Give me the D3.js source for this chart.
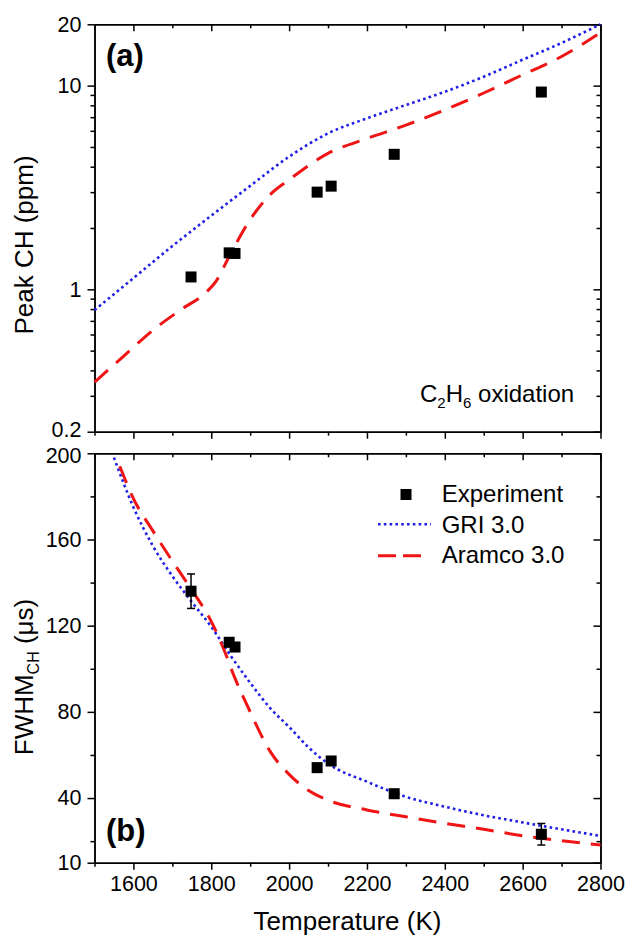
<!DOCTYPE html>
<html>
<head>
  <meta charset="utf-8">
  <title>Peak CH and FWHM of CH vs temperature</title>
  <script src="https://d3js.org/d3.v7.min.js"></script>
  <style>
    body { margin: 0; background: #fff; }
    svg text { font-family: "Liberation Sans", Arial, sans-serif; fill: #000; }
  </style>
</head>
<body>
  <script>
    // Experiment (square markers)
    let tempExp = [1748, 1846, 1861, 2072, 2108, 2270, 2648];
    let peakExp = [1.15, 1.51, 1.50, 3.0, 3.21, 4.6, 9.3];
    let fwhmExp = [136, 112.3, 110.1, 54.1, 57.2, 42.0, 23.2];
    let fwhmErr = [8, 2, 2, 2, 2, 2, 5];

    // GRI 3.0, panel (a)
    let griTempA = [1500, 1600, 1700, 1800, 1900, 2000, 2100, 2200, 2300, 2400, 2500, 2600, 2700, 2800];
    let griPeak = [0.79, 1.135, 1.63, 2.3, 3.22, 4.48, 5.83, 6.91, 8.03, 9.33, 11.06, 13.4, 16.2, 20];
    // Aramco 3.0, panel (a)
    let aramTempA = [1500, 1575, 1650, 1720, 1790, 1810, 1850, 1900, 1950, 2000, 2100, 2200, 2300, 2400, 2500, 2600, 2700, 2800];
    let aramPeak = [0.35, 0.47, 0.63, 0.79, 0.98, 1.08, 1.5, 2.2, 2.9, 3.45, 4.65, 5.5, 6.4, 7.6, 9.2, 11.3, 13.9, 18.2];

    // GRI 3.0, panel (b)
    let griTempB = [1550, 1600, 1650, 1700, 1750, 1800, 1850, 1900, 1950, 2000, 2050, 2100, 2200, 2300, 2400, 2500, 2600, 2700, 2800];
    let griFwhm = [198, 175, 157, 143, 131, 119.5, 106, 93.5, 82, 73, 63.5, 56, 47.6, 40.6, 36, 32, 28.7, 25.5, 22.4];
    // Aramco 3.0, panel (b)
    let aramTempB = [1565, 1600, 1650, 1700, 1750, 1800, 1830, 1860, 1900, 1950, 2000, 2050, 2100, 2200, 2300, 2400, 2500, 2600, 2700, 2800];
    let aramFwhm = [194, 179, 164, 150, 136.5, 122, 110, 96, 80, 62, 51, 43.5, 39, 34.5, 31.3, 28.3, 25.5, 22.5, 20.2, 18.2];

    // Tick values
    let xMajor = [1600, 1800, 2000, 2200, 2400, 2600, 2800];
    let xMinor = [1500, 1700, 1900, 2100, 2300, 2500, 2700];
    let yTopMajor = [0.2, 1, 10, 20];
    let yTopMinor = [0.3, 0.4, 0.5, 0.6, 0.7, 0.8, 0.9, 2, 3, 4, 5, 6, 7, 8, 9];
    let yBotMajor = [10, 40, 80, 120, 160, 200];
    let yBotMinor = [20, 60, 100, 140, 180];

    let legendNames = ["Experiment", "GRI 3.0", "Aramco 3.0"];

    let blue = "#1f1fe6", red = "#f01414";

    let svg = d3.select("body").append("svg")
      .attr("width", 629)
      .attr("height", 940);

    let x = d3.scaleLinear().domain([1500, 2800]).range([94.5, 600.5]);
    let yTop = d3.scaleLog().domain([0.2, 20]).range([431.7, 24.3]);
    let yBot = d3.scaleLinear().domain([10, 200]).range([862.7, 453.3]);

    function styleAxis(g) {
      g.selectAll("path, line").attr("stroke", "#000").attr("stroke-width", 1.5);
      g.selectAll("text").attr("font-size", 21.5).attr("fill", "#000");
    }

    // Frame with ticks on four sides; left/bottom ticks outward, top/right inward
    function frame(y, major, minor, fmt, labelX) {
      let y0 = y.range()[0], y1 = y.range()[1];
      let x0 = x.range()[0], x1 = x.range()[1];

      svg.append("g").attr("transform", "translate(0," + y0 + ")")
        .call(d3.axisBottom(x).tickValues(xMajor).tickSize(7).tickSizeOuter(0).tickPadding(6)
          .tickFormat(labelX ? d3.format("d") : ""))
        .call(styleAxis);
      svg.append("g").attr("transform", "translate(0," + y0 + ")")
        .call(d3.axisBottom(x).tickValues(xMinor).tickSize(4).tickSizeOuter(0).tickFormat(""))
        .call(styleAxis);
      svg.append("g").attr("transform", "translate(0," + y1 + ")")
        .call(d3.axisTop(x).tickValues(xMajor).tickSizeInner(-7).tickSizeOuter(0).tickFormat(""))
        .call(styleAxis);
      svg.append("g").attr("transform", "translate(0," + y1 + ")")
        .call(d3.axisTop(x).tickValues(xMinor).tickSizeInner(-4).tickSizeOuter(0).tickFormat(""))
        .call(styleAxis);

      let left = svg.append("g").attr("transform", "translate(" + x0 + ",0)")
        .call(d3.axisLeft(y).tickValues(major).tickSize(7).tickSizeOuter(0).tickPadding(6).tickFormat(fmt))
        .call(styleAxis);
      svg.append("g").attr("transform", "translate(" + x0 + ",0)")
        .call(d3.axisLeft(y).tickValues(minor).tickSize(4).tickSizeOuter(0).tickFormat(""))
        .call(styleAxis);
      svg.append("g").attr("transform", "translate(" + x1 + ",0)")
        .call(d3.axisRight(y).tickValues(major).tickSizeInner(-7).tickSizeOuter(0).tickFormat(""))
        .call(styleAxis);
      svg.append("g").attr("transform", "translate(" + x1 + ",0)")
        .call(d3.axisRight(y).tickValues(minor).tickSizeInner(-4).tickSizeOuter(0).tickFormat(""))
        .call(styleAxis);
      return left;
    }

    function curve(temps, vals, y, color, dash, w) {
      let line = d3.line()
        .x(function(d) { return x(d[0]); })
        .y(function(d) { return y(d[1]); })
        .curve(d3.curveMonotoneX);
      svg.append("path")
        .datum(d3.zip(temps, vals))
        .attr("d", line)
        .attr("fill", "none")
        .attr("stroke", color)
        .attr("stroke-width", w)
        .attr("stroke-dasharray", dash);
    }

    function squares(vals, y) {
      svg.append("g").selectAll("rect")
        .data(d3.zip(tempExp, vals))
        .enter().append("rect")
        .attr("x", function(d) { return x(d[0]) - 5.5; })
        .attr("y", function(d) { return y(d[1]) - 5.5; })
        .attr("width", 11)
        .attr("height", 11)
        .attr("fill", "#000");
    }

    // ----- panel (a) -----
    let leftA = frame(yTop, yTopMajor, yTopMinor, function(d) { return d; }, false);
    // keep the corner labels "0.2" and "200" from touching
    leftA.selectAll("text").filter(function(d) { return d === 0.2; }).attr("dy", "0.2em");
    curve(griTempA, griPeak, yTop, blue, "2.6,3.2", 2.6);
    curve(aramTempA, aramPeak, yTop, red, "18,11", 3);
    squares(peakExp, yTop);

    // ----- panel (b) -----
    let leftB = frame(yBot, yBotMajor, yBotMinor, d3.format("d"), true);
    leftB.selectAll("text").filter(function(d) { return d === 200; }).attr("dy", "0.45em");
    curve(griTempB, griFwhm, yBot, blue, "2.6,3.2", 2.6);
    curve(aramTempB, aramFwhm, yBot, red, "18,11", 3);

    // error bars
    let errData = d3.zip(tempExp, fwhmExp, fwhmErr);
    let eb = svg.append("g").attr("stroke", "#000").attr("stroke-width", 1.5);
    eb.selectAll("line.v").data(errData).enter().append("line")
      .attr("x1", function(d) { return x(d[0]); })
      .attr("x2", function(d) { return x(d[0]); })
      .attr("y1", function(d) { return yBot(d[1] + d[2]); })
      .attr("y2", function(d) { return yBot(d[1] - d[2]); });
    eb.selectAll("line.t").data(errData).enter().append("line")
      .attr("x1", function(d) { return x(d[0]) - 4; })
      .attr("x2", function(d) { return x(d[0]) + 4; })
      .attr("y1", function(d) { return yBot(d[1] + d[2]); })
      .attr("y2", function(d) { return yBot(d[1] + d[2]); });
    eb.selectAll("line.b").data(errData).enter().append("line")
      .attr("x1", function(d) { return x(d[0]) - 4; })
      .attr("x2", function(d) { return x(d[0]) + 4; })
      .attr("y1", function(d) { return yBot(d[1] - d[2]); })
      .attr("y2", function(d) { return yBot(d[1] - d[2]); });
    squares(fwhmExp, yBot);

    // ----- labels -----
    svg.append("text").attr("x", 106).attr("y", 65.5)
      .attr("font-size", 31).attr("font-weight", "bold").text("(a)");
    svg.append("text").attr("x", 106).attr("y", 840.5)
      .attr("font-size", 31).attr("font-weight", "bold").text("(b)");

    let ox = svg.append("text").attr("x", 420).attr("y", 401.7).attr("font-size", 24);
    ox.append("tspan").text("C");
    ox.append("tspan").attr("font-size", 15).attr("dy", 6).text("2");
    ox.append("tspan").attr("dy", -6).text("H");
    ox.append("tspan").attr("font-size", 15).attr("dy", 6).text("6");
    ox.append("tspan").attr("dy", -6).text(" oxidation");

    svg.append("text")
      .attr("transform", "translate(33,245) rotate(-90)")
      .attr("text-anchor", "middle").attr("font-size", 26)
      .text("Peak CH (ppm)");

    let fw = svg.append("text")
      .attr("transform", "translate(33,677) rotate(-90)")
      .attr("text-anchor", "middle").attr("font-size", 26);
    fw.append("tspan").text("FWHM");
    fw.append("tspan").attr("font-size", 16).attr("dy", 6).text("CH");
    fw.append("tspan").attr("dy", -6).text(" (\u03bcs)");

    svg.append("text")
      .attr("x", 347.5).attr("y", 930)
      .attr("text-anchor", "middle").attr("font-size", 26)
      .text("Temperature (K)");

    // ----- legend -----
    let lg = svg.append("g");
    lg.append("rect").attr("x", 400.5).attr("y", 489).attr("width", 11).attr("height", 11).attr("fill", "#000");
    lg.append("line").attr("x1", 378).attr("x2", 431).attr("y1", 524.3).attr("y2", 524.3)
      .attr("stroke", blue).attr("stroke-width", 2.6).attr("stroke-dasharray", "2.6,3.2");
    lg.append("line").attr("x1", 378).attr("x2", 421).attr("y1", 555.7).attr("y2", 555.7)
      .attr("stroke", red).attr("stroke-width", 3).attr("stroke-dasharray", "18,7");
    lg.selectAll("text").data(legendNames).enter().append("text")
      .attr("x", 441.7)
      .attr("y", function(d, i) { return 502.3 + i * 30.5; })
      .attr("font-size", 24)
      .text(function(d) { return d; });
  </script>
</body>
</html>
